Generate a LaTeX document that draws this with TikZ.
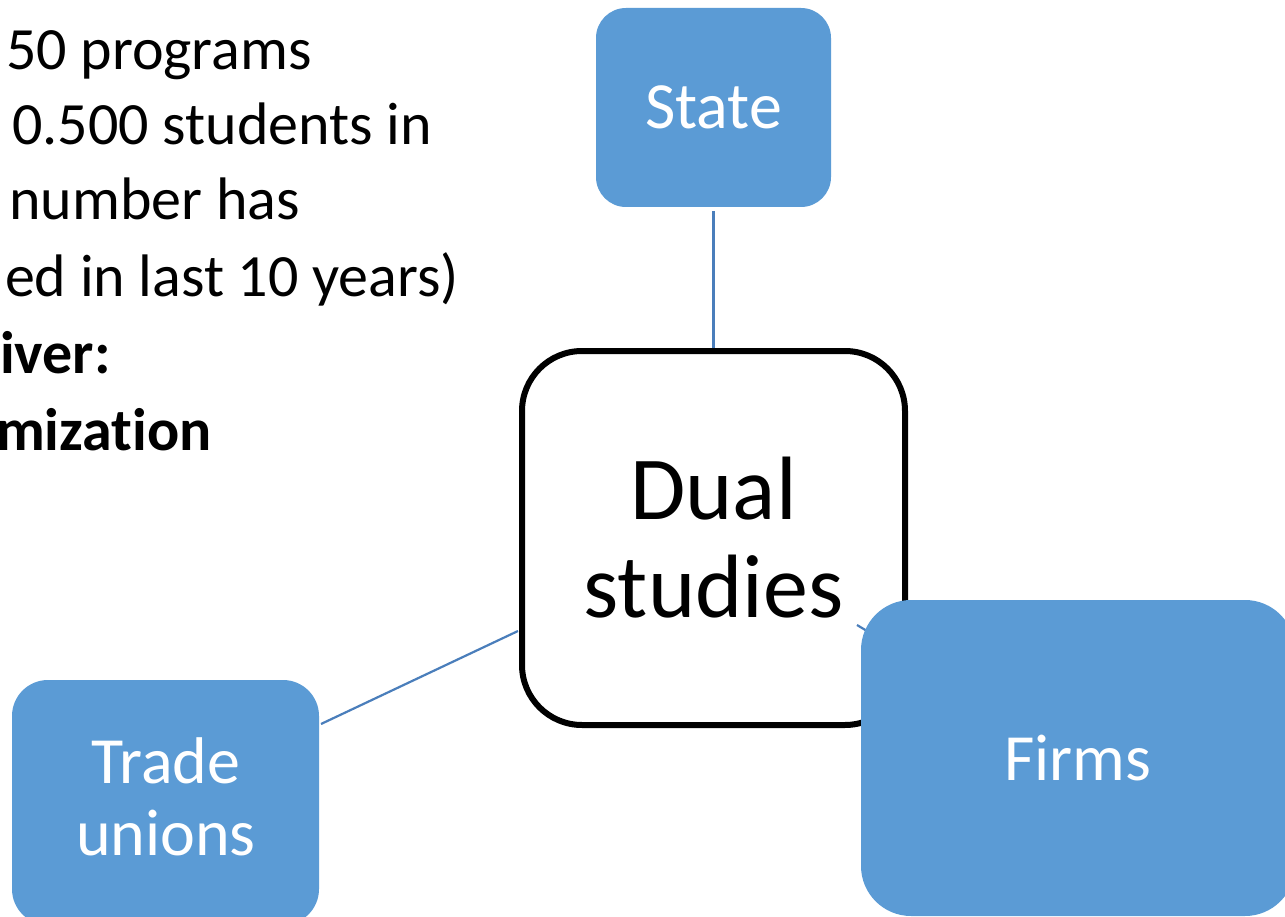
\documentclass[tikz,border=0pt]{standalone}
\usepackage{fontspec}
\setmainfont{Carlito}[Ligatures={NoCommon}]
\definecolor{boxblue}{HTML}{5B9BD5}
\definecolor{linkblue}{HTML}{4A7EBB}
\begin{document}
\begin{tikzpicture}[x=1pt,y=-1pt,
  bluebox/.style={fill=boxblue,draw=none,text=white,align=center,
    font=\fontsize{66}{72}\selectfont,inner sep=0pt},
  dualbox/.style={draw=black,line width=6pt,fill=white,align=center,
    rounded corners=60pt,minimum width=383pt,minimum height=374pt,
    font=\fontsize{90}{98}\selectfont,inner sep=0pt},
  link/.style={draw=linkblue,line width=2.2pt},
  txt/.style={anchor=base east,inner sep=0pt,font=\fontsize{60}{76}\selectfont}]
\useasboundingbox (0,0) rectangle (1285,917);
\fill[white] (0,0) rectangle (1285,917);
% left text
\node[txt] (t1) at (312,70) {50 programs};
\node[txt] (t2) at (432,145) {0.500 students in};
\node[txt] (t3) at (300,220) {number has};
\node[txt] (t4) at (459,297) {ed in last 10 years)};
\node[txt,font=\fontsize{60}{76}\selectfont\bfseries] (t5) at (111,373) {iver:};
\node[txt,font=\fontsize{60}{76}\selectfont\bfseries] (t6) at (212,450) {mization};
% nodes
\node[dualbox] (dual) at (713.5,538) {Dual\\studies};
\node[bluebox,rounded corners=30pt,minimum width=235pt,minimum height=199pt] (state) at (713.5,107.5) {State};
\node[bluebox,rounded corners=36pt,minimum width=307pt,minimum height=245pt] (trade) at (165.5,802.5) {};
\node[text=white,align=center,font=\fontsize{66}{72}\selectfont,inner sep=0pt] (tradetxt) at (166,797) {Trade\\unions};
\coordinate (fd) at (857,625);
\draw[link] (fd) -- ++(30,18) coordinate (fe);
\node[bluebox,rounded corners=50pt,minimum width=434pt,minimum height=316pt] (firms) at (1078,758) {Firms};
% connectors
\draw[link] (state.south) ++(0,4) coordinate (ss) -- (dual.north);
\draw[link] (321,724) coordinate (tu) -- (518,631) coordinate (du);
\end{tikzpicture}
\end{document}
